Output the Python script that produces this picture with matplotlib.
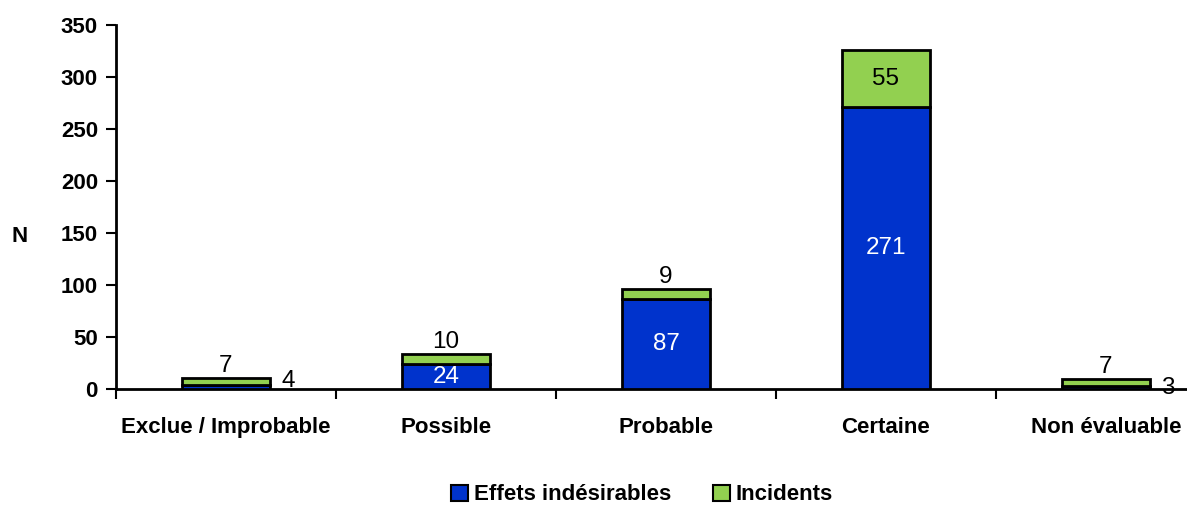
import matplotlib
matplotlib.use("Agg")
import matplotlib.pyplot as plt
from matplotlib.patches import Patch

plt.rcParams['font.family'] = ['Liberation Sans', 'DejaVu Sans']

categories = ["Exclue / Improbable", "Possible", "Probable", "Certaine", "Non évaluable"]
effets = [4, 24, 87, 271, 3]
incidents = [7, 10, 9, 55, 7]
series_names = ["Effets indésirables", "Incidents"]

blue = "#0033CC"
green = "#92D050"

W, H = 1187, 507
fig = plt.figure(figsize=(W / 100, H / 100), dpi=100)
ax = fig.add_axes([116 / W, (H - 389) / H, 1100 / W, 364 / H])

x = list(range(len(categories)))
bw = 0.4
ax.bar(x, effets, bw, color=blue, edgecolor="black", linewidth=2, zorder=3)
ax.bar(x, incidents, bw, bottom=effets, color=green, edgecolor="black", linewidth=2, zorder=3)

# vertical nudge (points) for the small blue values written beside their bar
side_nudge = {0: 4.5, 4: -0.5}

lab_fs = 17.5
for i, (e, n) in enumerate(zip(effets, incidents)):
    if e >= 20:
        ax.text(i, e / 2, str(e), ha="center", va="center", color="white", fontsize=lab_fs, zorder=4)
    else:
        ax.annotate(str(e), xy=(i + bw / 2 + 0.05, e / 2), xytext=(0, side_nudge.get(i, 0)),
                    textcoords="offset points", ha="left", va="center",
                    color="black", fontsize=lab_fs, zorder=4)
    if n >= 30:
        ax.text(i, e + n / 2, str(n), ha="center", va="center", color="black", fontsize=lab_fs, zorder=4)
    else:
        ax.text(i, e + n + 1, str(n), ha="center", va="bottom", color="black", fontsize=lab_fs, zorder=4)

ax.set_xlim(-0.5, len(categories) - 0.5)
ax.set_ylim(0, 350)
ax.set_yticks(range(0, 351, 50))
ax.set_xticks(x)
ax.set_xticklabels(categories, fontsize=16, fontweight="bold")
ax.tick_params(axis="x", length=0, pad=20)
ax.set_xticks([i + 0.5 for i in x[:-1]] + [-0.5], minor=True)
ax.tick_params(axis="x", which="minor", length=7, width=1.5, direction="out")
ax.tick_params(axis="y", length=7, width=1.5, direction="out", labelsize=16, pad=6)
for lbl in ax.get_yticklabels():
    lbl.set_fontweight("bold")

for side in ("top", "right"):
    ax.spines[side].set_visible(False)
ax.spines["left"].set_linewidth(2)
ax.spines["bottom"].set_linewidth(2)

fig.text(20 / W, (H - 236) / H, "N", fontsize=16, fontweight="bold", ha="center", va="center")

handles = [Patch(facecolor=blue, edgecolor="black", linewidth=1.5),
           Patch(facecolor=green, edgecolor="black", linewidth=1.5)]
fig.legend(handles, series_names, loc="center", bbox_to_anchor=(642 / W, (H - 495) / H),
           ncol=2, frameon=False, handlelength=0.75, handleheight=0.75, handletextpad=0.25,
           columnspacing=1.9, prop={"size": 16, "weight": "bold"})

fig.savefig("out.png", dpi=100)
